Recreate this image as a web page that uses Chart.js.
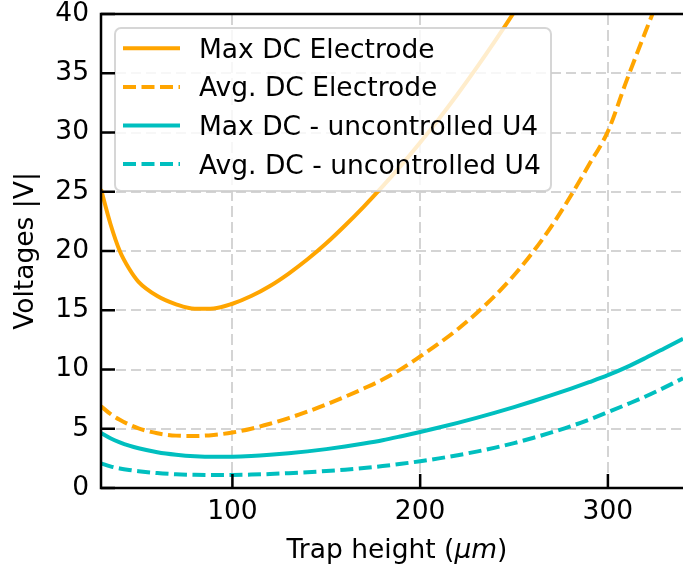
<!DOCTYPE html>
<html>
<head>
<meta charset="utf-8">
<script src="https://cdn.jsdelivr.net/npm/chart.js@4.4.1/dist/chart.umd.min.js"></script>
<style>
  html, body { margin: 0; padding: 0; background: #ffffff; }
  #wrap { width: 683px; height: 569px; position: relative; }
</style>
</head>
<body>
<div id="wrap"><canvas id="c" width="683" height="569"></canvas></div>
<script>
// ---------------- data ----------------
const trapHeight = [30, 35, 40, 45, 50, 60, 70, 80, 90, 100, 110, 120, 130, 140, 150, 160, 170, 180, 190, 200,
                    210, 220, 230, 240, 250, 260, 270, 280, 290, 300, 310, 320, 330, 340];
const maxDcElectrode = [25.2, 22.3, 20.0, 18.5, 17.4, 16.2, 15.5, 15.12, 15.15, 15.55, 16.2, 17.05, 18.1, 19.3, 20.65, 22.15, 23.75, 25.45, 27.25, 29.15,
                        31.15, 33.25, 35.45, 37.75, 40.15, 42.65, null, null, null, null, null, null, null, null];
const avgDcElectrode = [6.9, 6.25, 5.75, 5.35, 5.03, 4.62, 4.42, 4.39, 4.48, 4.68, 5.0, 5.42, 5.9, 6.45, 7.05, 7.7, 8.4, 9.15, 10.05, 11.1,
                        12.2, 13.4, 14.75, 16.25, 17.95, 19.9, 22.1, 24.6, 27.3, 30.1, 34.4, 38.5, 42.5, 46.5];
const maxDcUncontrolled = [4.65, 4.2, 3.85, 3.57, 3.35, 3.02, 2.81, 2.68, 2.63, 2.64, 2.7, 2.8, 2.93, 3.09, 3.28, 3.5, 3.75, 4.03, 4.37, 4.73,
                           5.1, 5.5, 5.92, 6.36, 6.83, 7.32, 7.83, 8.37, 8.93, 9.52, 10.2, 10.97, 11.78, 12.6];
const avgDcUncontrolled = [2.08, 1.83, 1.65, 1.52, 1.42, 1.26, 1.16, 1.11, 1.09, 1.1, 1.13, 1.18, 1.25, 1.33, 1.43, 1.55, 1.69, 1.85, 2.04, 2.26,
                           2.5, 2.77, 3.07, 3.41, 3.79, 4.22, 4.69, 5.2, 5.77, 6.4, 7.05, 7.72, 8.47, 9.26];
const seriesLabels = ['Max DC Electrode', 'Avg. DC Electrode', 'Max DC - uncontrolled U4', 'Avg. DC - uncontrolled U4'];
const xTickValues = [100, 200, 300];
const yTickValues = [0, 5, 10, 15, 20, 25, 30, 35, 40];
const xAxisLabel = ['Trap height (', 'μm', ')'];
const yAxisLabel = 'Voltages |V|';

// ---------------- styles ----------------
const ORANGE = '#ffa500';
const CYAN = '#00bfbf';
const DASH = [13, 5.5];
const FONT = 'DejaVu Sans';
const FSIZE = 26.5;

function pts(ys) {
  return trapHeight.map((x, i) => ({ x: x, y: ys[i] }));
}

const datasets = [
  { label: seriesLabels[0], data: pts(maxDcElectrode), borderColor: ORANGE, borderDash: [] },
  { label: seriesLabels[1], data: pts(avgDcElectrode), borderColor: ORANGE, borderDash: DASH },
  { label: seriesLabels[2], data: pts(maxDcUncontrolled), borderColor: CYAN, borderDash: [] },
  { label: seriesLabels[3], data: pts(avgDcUncontrolled), borderColor: CYAN, borderDash: DASH }
].map(d => Object.assign(d, {
  borderWidth: 4, pointRadius: 0, fill: false, cubicInterpolationMode: 'monotone', spanGaps: false
}));

// frame, inward ticks, legend, x title
const decor = {
  id: 'decor',
  afterDatasetsDraw(chart) {
    const ctx = chart.ctx;
    const bx = 115, by = 28, bw = 436, bh = 163, r = 6;
    ctx.save();
    ctx.beginPath();
    ctx.moveTo(bx + r, by);
    ctx.lineTo(bx + bw - r, by);
    ctx.arcTo(bx + bw, by, bx + bw, by + r, r);
    ctx.lineTo(bx + bw, by + bh - r);
    ctx.arcTo(bx + bw, by + bh, bx + bw - r, by + bh, r);
    ctx.lineTo(bx + r, by + bh);
    ctx.arcTo(bx, by + bh, bx, by + bh - r, r);
    ctx.lineTo(bx, by + r);
    ctx.arcTo(bx, by, bx + r, by, r);
    ctx.closePath();
    ctx.fillStyle = 'rgba(255,255,255,0.8)';
    ctx.fill();
    ctx.strokeStyle = 'rgba(204,204,204,0.8)';
    ctx.lineWidth = 2;
    ctx.stroke();
    chart.data.datasets.forEach((ds, i) => {
      const cy = 48.3 + i * 38.6;
      ctx.beginPath();
      ctx.setLineDash(ds.borderDash || []);
      ctx.strokeStyle = ds.borderColor;
      ctx.lineWidth = 4;
      ctx.moveTo(123, cy);
      ctx.lineTo(180, cy);
      ctx.stroke();
      ctx.setLineDash([]);
      ctx.fillStyle = '#000';
      ctx.font = FSIZE + 'px "' + FONT + '"';
      ctx.textAlign = 'left';
      ctx.textBaseline = 'alphabetic';
      ctx.fillText(ds.label, 199, cy + 9.5);
    });
    ctx.restore();
  },
  afterDraw(chart) {
    const ctx = chart.ctx;
    const a = chart.chartArea;
    const xs = chart.scales.x, ys = chart.scales.y;
    ctx.save();
    ctx.strokeStyle = '#000';
    ctx.lineWidth = 2.5;
    ctx.setLineDash([]);
    ctx.beginPath();
    ctx.moveTo(a.left, a.top);
    ctx.lineTo(a.right + 5, a.top);
    ctx.moveTo(a.left, a.top - 1.25);
    ctx.lineTo(a.left, a.bottom + 1.25);
    ctx.moveTo(a.left - 1.25, a.bottom);
    ctx.lineTo(a.right + 5, a.bottom);
    ctx.stroke();
    ctx.beginPath();
    xTickValues.forEach(v => {
      const px = xs.getPixelForValue(v);
      ctx.moveTo(px, a.bottom);
      ctx.lineTo(px, a.bottom - 14);
    });
    yTickValues.forEach(v => {
      const py = ys.getPixelForValue(v);
      ctx.moveTo(a.left, py);
      ctx.lineTo(a.left + 14, py);
    });
    ctx.stroke();
    const normal = FSIZE + 'px "' + FONT + '"';
    const italic = 'italic ' + FSIZE + 'px "' + FONT + '"';
    ctx.font = normal; const w0 = ctx.measureText(xAxisLabel[0]).width; const w2 = ctx.measureText(xAxisLabel[2]).width;
    ctx.font = italic; const w1 = ctx.measureText(xAxisLabel[1]).width;
    const total = w0 + w1 + w2;
    let x0 = (a.left + a.right) / 2 + 5 - total / 2;
    const base = 558;
    ctx.fillStyle = '#000';
    ctx.textAlign = 'left';
    ctx.textBaseline = 'alphabetic';
    ctx.font = normal; ctx.fillText(xAxisLabel[0], x0, base);
    ctx.font = italic; ctx.fillText(xAxisLabel[1], x0 + w0, base);
    ctx.font = normal; ctx.fillText(xAxisLabel[2], x0 + w0 + w1, base);
    ctx.restore();
  }
};

const gridCommon = { color: '#d4d4d4', lineWidth: 2, drawTicks: false };

new Chart(document.getElementById('c'), {
  type: 'line',
  data: { datasets: datasets },
  options: {
    responsive: false,
    animation: false,
    devicePixelRatio: 1,
    layout: { padding: { top: 14, right: 0, left: 0, bottom: 0 } },
    plugins: { legend: { display: false }, tooltip: { enabled: false } },
    scales: {
      x: {
        type: 'linear', min: 30, max: 340,
        afterBuildTicks: s => { s.ticks = xTickValues.map(v => ({ value: v })); },
        afterFit: s => { s.height = 81; s.paddingLeft = 0; s.paddingRight = 0; },
        grid: gridCommon,
        border: { display: false, dash: [11, 5] },
        ticks: { font: { family: FONT, size: FSIZE }, color: '#000', padding: 8, maxRotation: 0 }
      },
      y: {
        type: 'linear', min: 0, max: 40,
        afterBuildTicks: s => { s.ticks = yTickValues.map(v => ({ value: v })); },
        afterFit: s => { s.width = 101; s.paddingTop = 0; s.paddingBottom = 0; },
        grid: gridCommon,
        border: { display: false, dash: [10, 5] },
        ticks: { font: { family: FONT, size: FSIZE }, color: '#000', padding: 12 },
        title: { display: true, text: yAxisLabel, color: '#000', font: { family: FONT, size: FSIZE }, padding: { top: 10, bottom: 0 } }
      }
    }
  },
  plugins: [decor]
});
</script>
</body>
</html>
